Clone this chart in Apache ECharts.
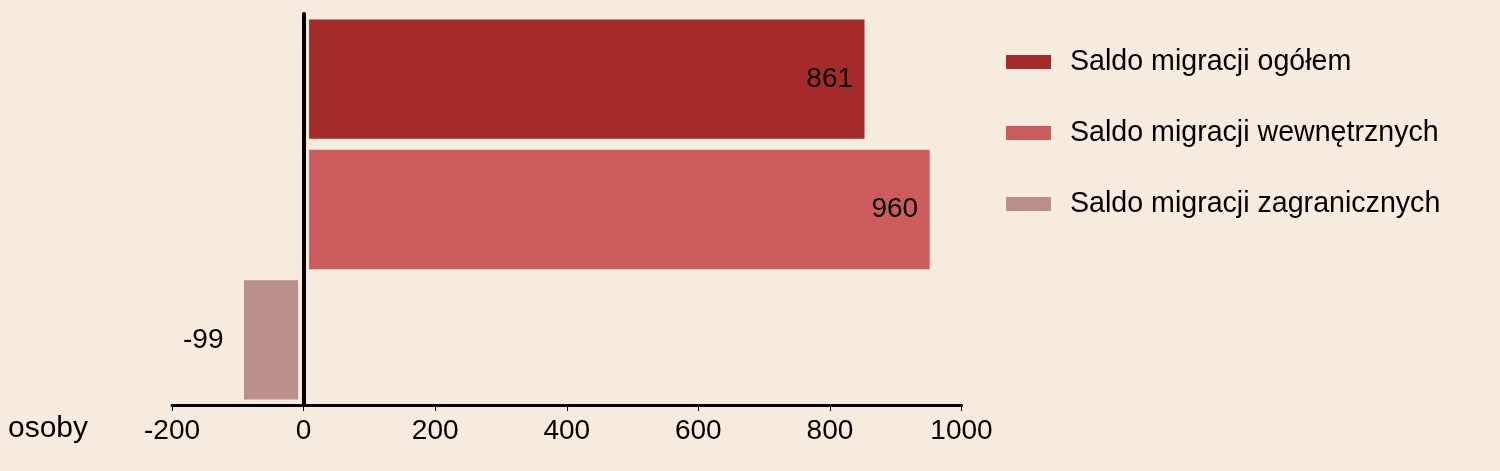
<!DOCTYPE html>
<html><head><meta charset="utf-8">
<script src="https://cdn.jsdelivr.net/npm/echarts@6/dist/echarts.min.js"></script>
<style>html,body{margin:0;padding:0;background:#f5ecdf;}#c{width:1500px;height:471px;}</style>
</head><body><div id="c"></div>
<script>
const categories = ['Saldo migracji ogółem', 'Saldo migracji wewnętrznych', 'Saldo migracji zagranicznych'];
const seriesNames = ['Saldo migracji ogółem', 'Saldo migracji wewnętrznych', 'Saldo migracji zagranicznych'];
const valuesOgolem = [861, null, null];
const valuesWewn = [null, 960, null];
const valuesZagr = [null, null, -99];
const colors = ['#a52a2a', '#cd5c5c', '#bc8f8f'];
const xTicks = { min: -200, max: 1000, interval: 200 };
const axisName = 'osoby';

const BG = '#f5ecdf';
const FONT = 'Liberation Sans, Arial, sans-serif';
const allValues = [valuesOgolem, valuesWewn, valuesZagr];

const chart = echarts.init(document.getElementById('c'));
chart.setOption({
  backgroundColor: BG,
  animation: false,
  textStyle: { fontFamily: FONT },
  grid: { left: 172, right: 538.5, top: 14, bottom: 66, containLabel: false },
  legend: {
    orient: 'vertical',
    left: 1001,
    top: 42,
    itemWidth: 45,
    itemHeight: 14,
    itemGap: 41,
    icon: 'rect',
    itemStyle: { borderWidth: 0 },
    textStyle: { fontSize: 28.6, color: '#000', fontFamily: FONT, lineHeight: 30, padding: [0, 0, 0, 14] },
    data: seriesNames
  },
  xAxis: {
    type: 'value',
    min: xTicks.min, max: xTicks.max, interval: xTicks.interval,
    z: 10,
    name: axisName,
    nameLocation: 'start',
    nameGap: 84,
    nameTextStyle: { fontSize: 30, color: '#000', fontFamily: FONT, verticalAlign: 'top', padding: [9, 0, 0, 0] },
    axisLine: { show: true, onZero: false, lineStyle: { color: '#000', width: 3 } },
    axisTick: { show: true, length: 6, lineStyle: { color: '#000', width: 1 } },
    axisLabel: { fontSize: 28, color: '#000', margin: 12, fontFamily: FONT, formatter: v => String(v) },
    splitLine: { show: false }
  },
  yAxis: {
    type: 'category',
    data: categories,
    inverse: true,
    z: 10,
    axisLine: { show: true, lineStyle: { color: '#000', width: 4 } },
    axisTick: { show: false },
    axisLabel: { show: false },
    splitLine: { show: false }
  },
  series: seriesNames.map((name, i) => ({
    name: name,
    type: 'bar',
    stack: 'all',
    barCategoryGap: '0%',
    data: allValues[i],
    itemStyle: { color: colors[i], borderColor: BG, borderWidth: 5.5 },
    label: {
      show: true,
      position: i === 2 ? 'left' : 'insideRight',
      distance: i === 2 ? 15 : 17,
      fontSize: 28,
      color: '#000',
      fontFamily: FONT
    }
  }))
});
</script>
</body></html>
